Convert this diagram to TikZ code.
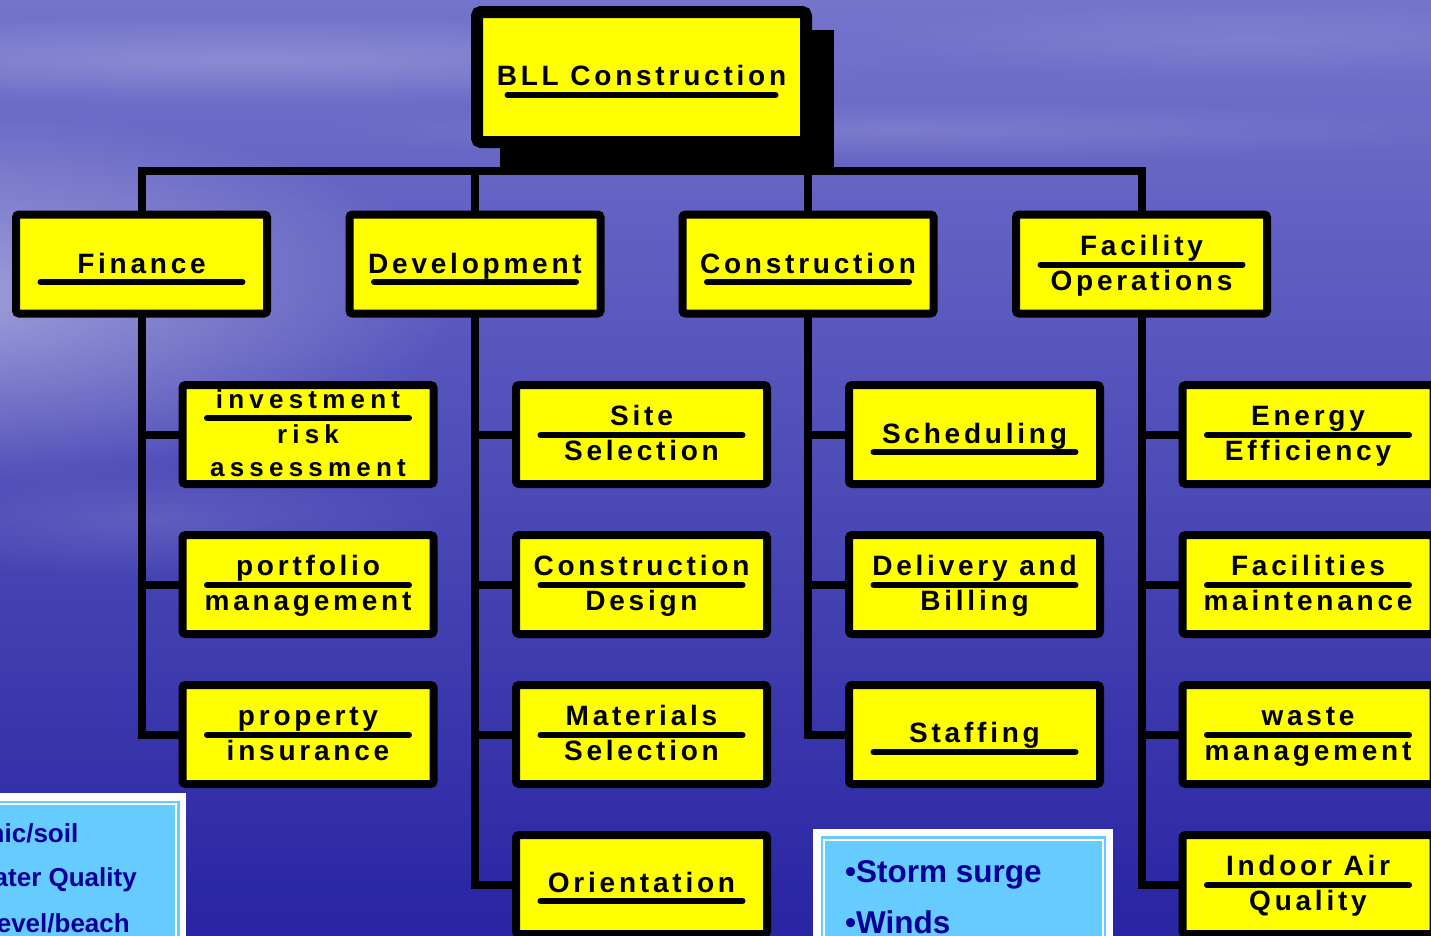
\documentclass[tikz,border=0pt]{standalone}
\usepackage{fontspec}
\newfontfamily\boxfont{Liberation Sans}[LetterSpace=13.5]
\newfontfamily\boxfontwide{Liberation Sans}[LetterSpace=20]
\newfontfamily\notefont{Liberation Sans}
\usetikzlibrary{fadings}

\definecolor{boxyellow}{RGB}{255,255,0}
\definecolor{notebg}{RGB}{102,204,255}
\definecolor{notetext}{RGB}{0,0,153}
\definecolor{bgtop}{RGB}{116,116,204}
\definecolor{bgmid}{RGB}{76,74,190}
\definecolor{bgbot}{RGB}{40,36,163}

\tikzfading[name=haze, inner color=transparent!0, outer color=transparent!100]

\pgfdeclarelayer{backdrop}
\pgfdeclarelayer{wires}
\pgfsetlayers{backdrop,wires,main}

\tikzset{
  conn/.style={line width=8pt, black},
  card/.style={draw=black, fill=boxyellow, line width=8pt, rounded corners=3pt,
    minimum width=251pt, minimum height=99pt, inner sep=0pt, outer sep=0pt},
  headcard/.style={card, line width=12pt, minimum width=329pt, minimum height=130pt,
    rounded corners=4pt},
  lbl/.style={font=\boxfont\bfseries\fontsize{28}{28}\selectfont, anchor=base,
    inner sep=0pt, text=black},
  lblsmall/.style={lbl, font=\boxfontwide\bfseries\fontsize{26}{26}\selectfont},
  bar/.style={line width=6pt, line cap=round},
  note/.style={font=\notefont\bfseries\fontsize{31.5}{31.5}\selectfont, text=notetext,
    inner sep=0pt},
  sidenote/.style={note, font=\notefont\bfseries\fontsize{26}{26}\selectfont},
}

% one text line of a card, dy below the card centre
\newcommand\cardtext[4][lbl]{\path (#2.center) ++(0,#3) node[#1] {#4};}
% the rule under the first line of a card
\newcommand\cardbar[2]{\draw[bar] (#1.center) ++(-101,#2) -- ++(202,0);}

\begin{document}
\begin{tikzpicture}[x=1pt,y=-1pt]
\useasboundingbox (0,0) rectangle (1431,935);

% backdrop
\begin{pgfonlayer}{backdrop}
\shade[top color=bgtop, middle color=bgmid, bottom color=bgbot] (0,0) rectangle (1431,935);
\fill[white, opacity=0.42, path fading=haze] (-60,300) ellipse [x radius=520, y radius=190];
\fill[white, opacity=0.20, path fading=haze] (250,60) ellipse [x radius=650, y radius=45];
\fill[white, opacity=0.10, path fading=haze] (1250,40) ellipse [x radius=400, y radius=40];
\fill[white, opacity=0.12, path fading=haze] (900,130) ellipse [x radius=600, y radius=30];
\fill[white, opacity=0.12, path fading=haze] (150,520) ellipse [x radius=300, y radius=60];
\end{pgfonlayer}

% shadow of the head card
\fill[black] (500,30) rectangle (834,167);

% cards
\node[headcard] (bll) at (641.5,77) {};

\node[card] (fin) at (141.5,264) {};
\node[card] (dev) at (475,264) {};
\node[card] (con) at (808,264) {};
\node[card] (fac) at (1141.5,264) {};

\node[card] (inv)  at (308,434.5) {};
\node[card] (port) at (308,584.5) {};
\node[card] (prop) at (308,734.5) {};

\node[card] (site)   at (641.5,434.5) {};
\node[card] (cdes)   at (641.5,584.5) {};
\node[card] (mat)    at (641.5,734.5) {};
\node[card] (orient) at (641.5,884.5) {};

\node[card] (sched) at (974.5,434.5) {};
\node[card] (deliv) at (974.5,584.5) {};
\node[card] (staff) at (974.5,734.5) {};

\node[card] (energy) at (1308,434.5) {};
\node[card] (fmaint) at (1308,584.5) {};
\node[card] (waste)  at (1308,734.5) {};
\node[card] (iaq)    at (1308,884.5) {};

% connectors, kept under the cards
\coordinate (bus) at (641.5,171);
\begin{pgfonlayer}{wires}
\draw[conn] (bll.south) -- (bus);
\draw[conn] (fin.north) |- (bus) -| (fac.north);
\draw[conn] (dev.north) -- (dev.north |- bus);
\draw[conn] (con.north) -- (con.north |- bus);
\foreach \c in {inv,port,prop} \draw[conn] (fin.south) |- (\c.west);
\foreach \c in {site,cdes,mat,orient} \draw[conn] (dev.south) |- (\c.west);
\foreach \c in {sched,deliv,staff} \draw[conn] (con.south) |- (\c.west);
\foreach \c in {energy,fmaint,waste,iaq} \draw[conn] (fac.south) |- (\c.west);
\end{pgfonlayer}

% head card text
\cardtext{bll}{8}{BLL Construction}
\draw[bar] (bll.center) ++(-134,18) -- ++(268,0);

% first level
\cardtext{fin}{9}{Finance}\cardbar{fin}{18}
\cardtext{dev}{9}{Development}\cardbar{dev}{18}
\cardtext{con}{9}{Construction}\cardbar{con}{18}
\cardtext{fac}{-9}{Facility}\cardbar{fac}{0.5}\cardtext{fac}{26}{Operations}

% finance
\cardtext[lblsmall]{inv}{-26.5}{investment}\cardbar{inv}{-16.5}
\cardtext[lblsmall]{inv}{8.5}{risk}\cardtext[lblsmall]{inv}{41.5}{assessment}
\cardtext{port}{-9}{portfolio}\cardbar{port}{0.5}\cardtext{port}{26}{management}
\cardtext{prop}{-9}{property}\cardbar{prop}{0.5}\cardtext{prop}{26}{insurance}

% development
\cardtext{site}{-9}{Site}\cardbar{site}{0.5}\cardtext{site}{26}{Selection}
\cardtext{cdes}{-9}{Construction}\cardbar{cdes}{0.5}\cardtext{cdes}{26}{Design}
\cardtext{mat}{-9}{Materials}\cardbar{mat}{0.5}\cardtext{mat}{26}{Selection}
\cardtext{orient}{7.5}{Orientation}\cardbar{orient}{16.5}

% construction
\cardtext{sched}{8.5}{Scheduling}\cardbar{sched}{17.5}
\cardtext{deliv}{-9}{Delivery and}\cardbar{deliv}{0.5}\cardtext{deliv}{26}{Billing}
\cardtext{staff}{7.5}{Staffing}\cardbar{staff}{17.5}

% facility operations
\cardtext{energy}{-9}{Energy}\cardbar{energy}{0.5}\cardtext{energy}{26}{Efficiency}
\cardtext{fmaint}{-9}{Facilities}\cardbar{fmaint}{0.5}\cardtext{fmaint}{26}{maintenance}
\cardtext{waste}{-9}{waste}\cardbar{waste}{0.5}\cardtext{waste}{26}{management}
\cardtext{iaq}{-9}{Indoor Air}\cardbar{iaq}{0.5}\cardtext{iaq}{26}{Quality}

% note box, lower left
\begin{scope}
\clip (0,0) rectangle (1431,935);
\fill[white] (-10,793) rectangle (186,950);
\fill[notebg] (-10,800.5) rectangle (179.5,950);
\draw[white, line width=2pt] (-10,804) rectangle (175.5,960);
\node[sidenote, anchor=base east] (s1) at (78.5,842) {nic/soil};
\node[sidenote, anchor=base east] (s2) at (137,886) {ater Quality};
\node[sidenote, anchor=base east] (s3) at (130,932) {evel/beach};

% note box, lower centre
\fill[white] (813,829) rectangle (1113,950);
\fill[notebg] (820.5,836) rectangle (1106,950);
\draw[white, line width=2pt] (824.3,840.3) rectangle (1102.8,960);
\node[note, anchor=base west] (h1) at (845,882) {•Storm surge};
\node[note, anchor=base west] (h2) at (845,933) {•Winds};
\end{scope}
\end{tikzpicture}
\end{document}
